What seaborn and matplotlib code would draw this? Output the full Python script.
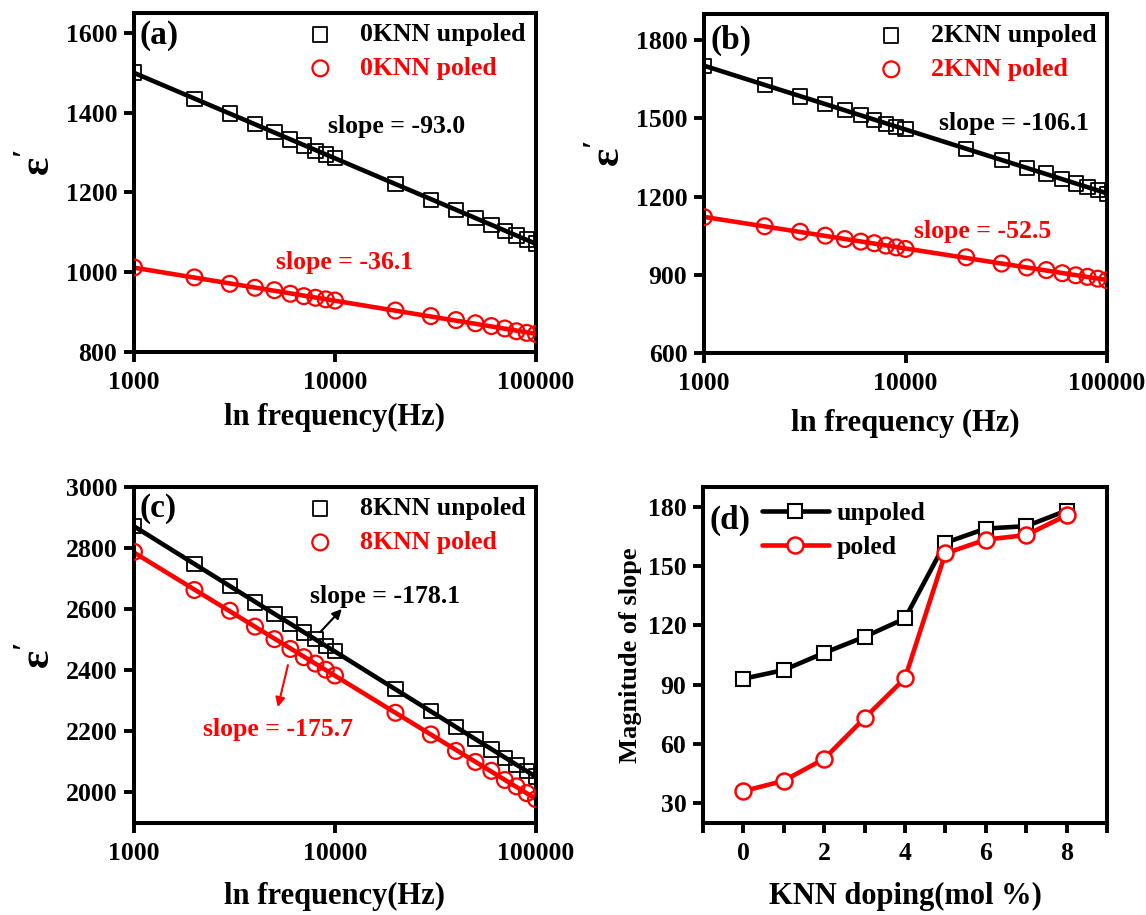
import numpy as np
import pandas as pd
import matplotlib
matplotlib.use("Agg")
import matplotlib.pyplot as plt
import seaborn as sns
from matplotlib.ticker import NullLocator, FixedLocator

# ---------------- data ----------------
freq = [1000, 2000, 3000, 4000, 5000, 6000, 7000, 8000, 9000, 10000,
        20000, 30000, 40000, 50000, 60000, 70000, 80000, 90000, 100000]

a_unpoled = [1501, 1435, 1398, 1371, 1351, 1333, 1318, 1304, 1295, 1287,
             1222, 1182, 1156, 1136, 1119, 1104, 1092, 1082, 1072]
a_poled = [1012, 987, 971, 961, 955, 946, 940, 936, 932, 929,
           904, 890, 880, 872, 865, 859, 852, 848, 845]

b_unpoled = [1702, 1629, 1584, 1555, 1532, 1513, 1494, 1478, 1468, 1458,
             1381, 1340, 1310, 1288, 1266, 1250, 1237, 1224, 1211]
b_poled = [1121, 1086, 1065, 1050, 1037, 1027, 1021, 1012, 1005, 999,
           967, 943, 928, 918, 906, 898, 892, 885, 879]

c_unpoled = [2872, 2748, 2676, 2622, 2585, 2552, 2524, 2502, 2480, 2464,
             2339, 2266, 2215, 2174, 2141, 2114, 2089, 2071, 2052]
c_poled = [2788, 2663, 2595, 2543, 2502, 2470, 2443, 2422, 2402, 2383,
           2261, 2190, 2136, 2100, 2071, 2041, 2020, 1998, 1978]

knn_doping = [0, 1, 2, 3, 4, 5, 6, 7, 8]
slope_unpoled = [93.0, 97.4, 106.1, 114.2, 123.5, 161.8, 169.0, 170.2, 178.1]
slope_poled = [36.1, 41.4, 52.5, 73.1, 93.2, 156.4, 163.4, 165.7, 175.7]

freq_ticks = [1000, 10000, 100000]
freq_tick_labels = ["1000", "10000", "100000"]

# ---------------- style ----------------
sns.set_theme(style="ticks")
plt.rcParams.update({
    "font.family": ["Liberation Serif", "DejaVu Serif"],
    "font.weight": "bold",
    "axes.labelweight": "bold",
    "axes.linewidth": 2.9,
    "xtick.major.width": 2.8,
    "ytick.major.width": 2.8,
    "xtick.minor.width": 2.8,
    "xtick.major.size": 7,
    "ytick.major.size": 7,
    "xtick.minor.size": 7,
    "xtick.major.pad": 7,
    "xtick.minor.pad": 7,
    "ytick.major.pad": 5,
    "xtick.labelsize": 18.5,
    "ytick.labelsize": 18.5,
    "xtick.color": "black",
    "ytick.color": "black",
    "axes.edgecolor": "black",
    "text.color": "black",
    "axes.labelcolor": "black",
    "mathtext.fontset": "custom",
    "mathtext.rm": "Liberation Serif:bold",
    "mathtext.bf": "Liberation Serif:bold",
})

fig = plt.figure(figsize=(11.46, 9.15), dpi=100)
ax_a = fig.add_axes([0.1169, 0.6153, 0.3508, 0.3705])
ax_b = fig.add_axes([0.6143, 0.6142, 0.3517, 0.3705])
ax_c = fig.add_axes([0.1169, 0.1005, 0.3508, 0.3672])
ax_d = fig.add_axes([0.6134, 0.1005, 0.3525, 0.3672])


def style_axes(ax):
    ax.tick_params(axis="both", which="both", direction="out", top=False, right=False)
    for lab in ax.get_xticklabels() + ax.get_yticklabels():
        lab.set_fontweight("bold")
    for s in ax.spines.values():
        s.set_visible(True)
        s.set_linewidth(2.9)


def freq_panel(ax, unp, pol, lab_u, lab_p, ylim, yticks, panel, panel_y,
               xlabel, xlabelpad, ylab_y):
    df = pd.DataFrame({"f": freq, "unpoled": unp, "poled": pol})
    sns.regplot(data=df, x="f", y="unpoled", logx=True, ci=None, scatter=False,
                ax=ax, color="black", line_kws=dict(lw=3.3, zorder=2))
    sns.regplot(data=df, x="f", y="poled", logx=True, ci=None, scatter=False,
                ax=ax, color="red", line_kws=dict(lw=3.3, zorder=2))
    sns.scatterplot(data=df, x="f", y="unpoled", marker="s", s=105,
                    facecolor="none", edgecolor="black", linewidth=1.3,
                    ax=ax, zorder=3, label=lab_u)
    sns.scatterplot(data=df, x="f", y="poled", marker="o", s=130,
                    facecolor="none", edgecolor="red", linewidth=1.6,
                    ax=ax, zorder=3, label=lab_p)
    ax.set_xscale("log")
    ax.set_xlim(1000, 100000)
    ax.set_xticks(freq_ticks, labels=freq_tick_labels)
    ax.xaxis.set_minor_locator(NullLocator())
    ax.set_ylim(*ylim)
    ax.set_yticks(yticks)
    ax.set_xlabel(xlabel, fontsize=22, labelpad=xlabelpad)
    ax.set_ylabel("")
    ax.text(-0.236, ylab_y, r"ε$^{\prime}$", transform=ax.transAxes, fontsize=31,
            fontweight="bold", rotation=90, ha="center", va="center")
    style_axes(ax)
    ax.text(0.015, panel_y, panel, transform=ax.transAxes, fontsize=24,
            fontweight="bold", va="center", ha="left")
    leg = ax.legend(loc="upper right", bbox_to_anchor=(1.0, 1.0), frameon=False,
                    fontsize=18.5, labelcolor=["black", "red"], handlelength=1.0,
                    handletextpad=1.05, labelspacing=0.42, borderaxespad=0.2,
                    borderpad=0.2)
    for t in leg.get_texts():
        t.set_fontweight("bold")
    return ax


def slope_text(ax, x, y, s, color):
    ax.text(x, y, s, transform=ax.transAxes, fontsize=18.5, fontweight="bold",
            color=color, ha="center", va="center")


freq_panel(ax_a, a_unpoled, a_poled, "0KNN unpoled", "0KNN poled",
           (800, 1650), [800, 1000, 1200, 1400, 1600], "(a)", 0.935,
           "ln frequency(Hz)", 6, 0.56)
slope_text(ax_a, 0.652, 0.664, "slope = -93.0", "black")
slope_text(ax_a, 0.525, 0.265, "slope = -36.1", "red")

freq_panel(ax_b, b_unpoled, b_poled, "2KNN unpoled", "2KNN poled",
           (600, 1900), [600, 900, 1200, 1500, 1800], "(b)", 0.923,
           "ln frequency (Hz)", 10, 0.59)
slope_text(ax_b, 0.768, 0.676, "slope = -106.1", "black")
slope_text(ax_b, 0.691, 0.357, "slope = -52.5", "red")

freq_panel(ax_c, c_unpoled, c_poled, "8KNN unpoled", "8KNN poled",
           (1900, 3000), [2000, 2200, 2400, 2600, 2800, 3000], "(c)", 0.9375,
           "ln frequency(Hz)", 12, 0.50)
slope_text(ax_c, 0.624, 0.673, "slope = -178.1", "black")
slope_text(ax_c, 0.358, 0.277, "slope = -175.7", "red")
ax_c.annotate("", xy=(0.517, 0.637), xytext=(0.463, 0.568), xycoords="axes fraction",
              arrowprops=dict(arrowstyle="-|>", color="black", lw=1.5,
                              mutation_scale=14, shrinkA=0, shrinkB=0))
ax_c.annotate("", xy=(0.358, 0.345), xytext=(0.383, 0.470), xycoords="axes fraction",
              arrowprops=dict(arrowstyle="-|>", color="red", lw=1.5,
                              mutation_scale=14, shrinkA=0, shrinkB=0))

# ---------------- panel d ----------------
dfd = pd.DataFrame({"doping": knn_doping, "unpoled": slope_unpoled, "poled": slope_poled})
sns.lineplot(data=dfd, x="doping", y="unpoled", ax=ax_d, color="black", lw=3.3,
             marker="s", markersize=10, markerfacecolor="white",
             markeredgecolor="black", markeredgewidth=1.5, label="unpoled")
sns.lineplot(data=dfd, x="doping", y="poled", ax=ax_d, color="red", lw=3.3,
             marker="o", markersize=11.5, markerfacecolor="white",
             markeredgecolor="red", markeredgewidth=1.8, label="poled")
ax_d.set_xlim(-1, 9)
ax_d.set_ylim(20, 190)
ax_d.set_xticks([0, 2, 4, 6, 8])
ax_d.xaxis.set_minor_locator(FixedLocator([-1, 1, 3, 5, 7, 9]))
ax_d.set_yticks([30, 60, 90, 120, 150, 180])
ax_d.set_xlabel("KNN doping(mol %)", fontsize=22, labelpad=12)
ax_d.set_ylabel("Magnitude of slope", fontsize=19, labelpad=4)
style_axes(ax_d)
ax_d.text(0.017, 0.902, "(d)", transform=ax_d.transAxes, fontsize=24,
          fontweight="bold", va="center", ha="left")
legd = ax_d.legend(loc="upper left", bbox_to_anchor=(0.12, 0.985), frameon=False,
                   fontsize=18.5, handlelength=2.6, handletextpad=0.3,
                   labelspacing=0.42, borderaxespad=0.2, borderpad=0.2)
for t in legd.get_texts():
    t.set_fontweight("bold")

fig.savefig("out.png", dpi=100)
